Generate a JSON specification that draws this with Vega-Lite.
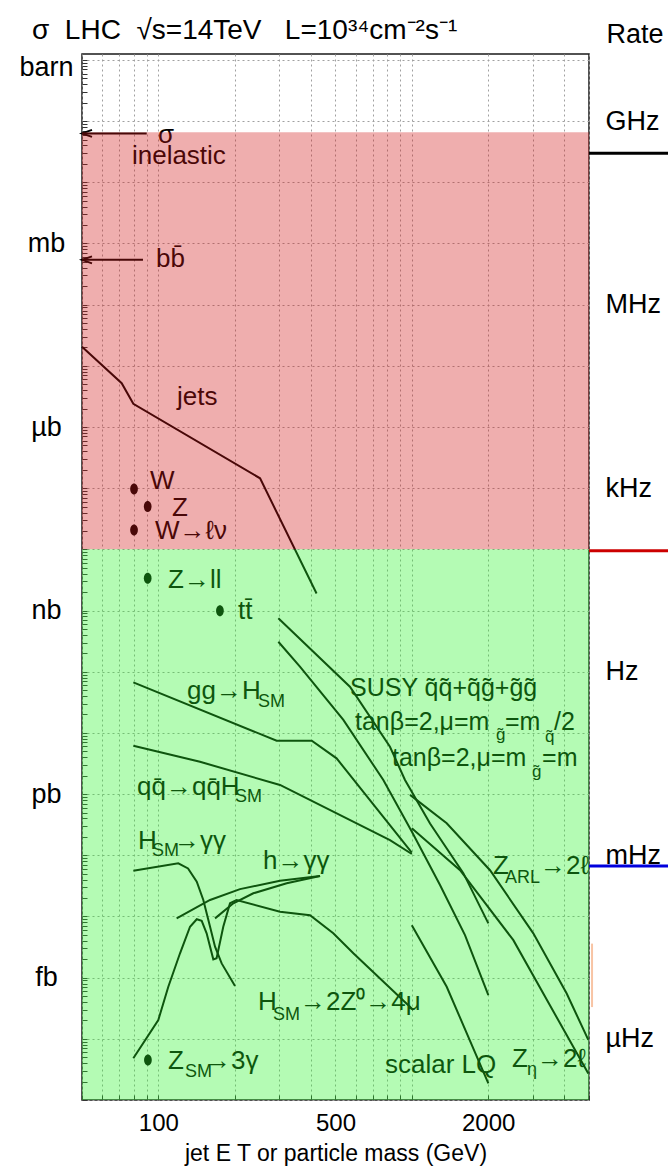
{
  "$schema": "https://vega.github.io/schema/vega-lite/v6.json",
  "width": 507,
  "height": 1046,
  "autosize": "none",
  "padding": {"left": 82, "top": 54, "right": 79, "bottom": 66},
  "background": "white",
  "config": {"font": "Liberation Sans", "view": {"stroke": "#1a1a1a", "strokeWidth": 1.5}},
  "title": {"text": "σ\u00a0\u00a0LHC\u00a0\u00a0√s=14TeV\u00a0\u00a0\u00a0L=10³⁴cm⁻²s⁻¹", "anchor": "start", "frame": "group", "dx": -50, "dy": 66, "offset": 19, "baseline": "alphabetic", "fontSize": 28, "fontWeight": "normal", "font": "Liberation Sans", "color": "black"},
  "resolve": {"scale": {"color": "independent"}},
  "datasets": {
    "curves": [
      {"series": "jets", "m": 50, "s": 2.05e-5},
      {"series": "jets", "m": 71.7, "s": 5.2e-6},
      {"series": "jets", "m": 79.7, "s": 2.4e-6},
      {"series": "jets", "m": 252, "s": 1.45e-7},
      {"series": "jets", "m": 421, "s": 1.9e-9},
      {"series": "ggH", "m": 79.7, "s": 6.7e-11},
      {"series": "ggH", "m": 293, "s": 7.45e-12},
      {"series": "ggH", "m": 403, "s": 7.45e-12},
      {"series": "ggH", "m": 505, "s": 3.84e-12},
      {"series": "ggH", "m": 1000, "s": 1.1e-13},
      {"series": "qqH", "m": 79.7, "s": 6.17e-12},
      {"series": "qqH", "m": 146, "s": 3.38e-12},
      {"series": "qqH", "m": 302, "s": 1.41e-12},
      {"series": "qqH", "m": 820, "s": 1.77e-13},
      {"series": "qqH", "m": 1000, "s": 1.05e-13},
      {"series": "susy1", "m": 297.5, "s": 7.46e-10},
      {"series": "susy1", "m": 570, "s": 5.7e-11},
      {"series": "susy1", "m": 820, "s": 5.94e-12},
      {"series": "susy1", "m": 940, "s": 1.7e-12},
      {"series": "susy1", "m": 1180, "s": 3.3e-13},
      {"series": "susy1", "m": 1597, "s": 5.1e-14},
      {"series": "susy1", "m": 2004, "s": 7.7e-15},
      {"series": "susy2", "m": 297.5, "s": 3.09e-10},
      {"series": "susy2", "m": 362, "s": 1.21e-10},
      {"series": "susy2", "m": 537, "s": 1.63e-11},
      {"series": "susy2", "m": 772, "s": 1.7e-12},
      {"series": "susy2", "m": 1002, "s": 2.4e-13},
      {"series": "susy2", "m": 1292, "s": 3.26e-14},
      {"series": "susy2", "m": 1621, "s": 4.97e-15},
      {"series": "susy2", "m": 2004, "s": 5.2e-16},
      {"series": "Hgg", "m": 79.7, "s": 5.6e-14},
      {"series": "Hgg", "m": 119.9, "s": 7.4e-14},
      {"series": "Hgg", "m": 131, "s": 6.1e-14},
      {"series": "Hgg", "m": 141.8, "s": 3.7e-14},
      {"series": "Hgg", "m": 150.5, "s": 1.86e-14},
      {"series": "Hgg", "m": 160, "s": 6.8e-15},
      {"series": "Hgg", "m": 167.4, "s": 3.2e-15},
      {"series": "Hgg", "m": 177.8, "s": 1.71e-15},
      {"series": "Hgg", "m": 200.7, "s": 7.3e-16},
      {"series": "H4mu", "m": 79.7, "s": 4.8e-17},
      {"series": "H4mu", "m": 100, "s": 2.03e-16},
      {"series": "H4mu", "m": 109.5, "s": 7.1e-16},
      {"series": "H4mu", "m": 121.8, "s": 2.5e-15},
      {"series": "H4mu", "m": 133.4, "s": 6.8e-15},
      {"series": "H4mu", "m": 141.8, "s": 9.0e-15},
      {"series": "H4mu", "m": 148.3, "s": 8.5e-15},
      {"series": "H4mu", "m": 155.1, "s": 5.3e-15},
      {"series": "H4mu", "m": 164.8, "s": 1.99e-15},
      {"series": "H4mu", "m": 169.8, "s": 2.07e-15},
      {"series": "H4mu", "m": 180.4, "s": 6.8e-15},
      {"series": "H4mu", "m": 191.8, "s": 1.64e-14},
      {"series": "H4mu", "m": 203.7, "s": 1.86e-14},
      {"series": "H4mu", "m": 302, "s": 1.19e-14},
      {"series": "H4mu", "m": 396.7, "s": 1.05e-14},
      {"series": "H4mu", "m": 490, "s": 5.3e-15},
      {"series": "H4mu", "m": 588, "s": 2.5e-15},
      {"series": "H4mu", "m": 1014, "s": 2.96e-16},
      {"series": "hggA", "m": 118.1, "s": 9.3e-15},
      {"series": "hggA", "m": 160, "s": 1.86e-14},
      {"series": "hggA", "m": 210, "s": 2.8e-14},
      {"series": "hggA", "m": 302, "s": 3.84e-14},
      {"series": "hggA", "m": 434.5, "s": 4.6e-14},
      {"series": "hggB", "m": 167.4, "s": 9.3e-15},
      {"series": "hggB", "m": 197.7, "s": 1.64e-14},
      {"series": "hggB", "m": 237, "s": 2.39e-14},
      {"series": "hggB", "m": 321, "s": 3.5e-14},
      {"series": "hggB", "m": 434.5, "s": 4.6e-14},
      {"series": "ZARL", "m": 984, "s": 9.7e-13},
      {"series": "ZARL", "m": 1373, "s": 3.33e-13},
      {"series": "ZARL", "m": 2035, "s": 5.7e-14},
      {"series": "ZARL", "m": 3015, "s": 5.3e-15},
      {"series": "ZARL", "m": 4083, "s": 5.5e-16},
      {"series": "ZARL", "m": 4969, "s": 9.6e-17},
      {"series": "Zeta", "m": 1000, "s": 2.76e-13},
      {"series": "Zeta", "m": 1550, "s": 5.7e-14},
      {"series": "Zeta", "m": 2515, "s": 4.1e-15},
      {"series": "Zeta", "m": 4969, "s": 2.7e-17},
      {"series": "LQ", "m": 1000, "s": 7.2e-15},
      {"series": "LQ", "m": 1373, "s": 7.1e-16},
      {"series": "LQ", "m": 2004, "s": 1.87e-17}
    ],
    "arrows": [
      {"m": 50, "m2": 90, "s": 0.063},
      {"m": 50, "m2": 87, "s": 5.4e-4}
    ],
    "dots": [
      {"m": 80.2, "s": 9.7e-8},
      {"m": 90.8, "s": 5.0e-8},
      {"m": 80.2, "s": 2.07e-8},
      {"m": 90.8, "s": 3.36e-9},
      {"m": 175, "s": 9.9e-10},
      {"m": 91, "s": 4.5e-17}
    ],
    "labels": [
      {"m": 99.7, "s": 0.0592, "t": "σ"},
      {"m": 78.7, "s": 0.0269, "t": "inelastic"},
      {"m": 97.9, "s": 5.57e-4, "t": "bb̄"},
      {"m": 118.5, "s": 3.09e-6, "t": "jets"},
      {"m": 92.7, "s": 1.31e-7, "t": "W"},
      {"m": 113.2, "s": 4.74e-8, "t": "Z"},
      {"m": 97.0, "s": 2.0e-8, "t": "W→ℓν"},
      {"m": 109.2, "s": 3.16e-9, "t": "Z→ll"},
      {"m": 206.3, "s": 9.8e-10, "t": "tt̄"},
      {"m": 129.8, "s": 4.84e-11, "t": "gg→H"},
      {"m": 82.4, "s": 1.3e-12, "t": "qq̄→qq̄H"},
      {"m": 83.2, "s": 1.71e-13, "t": "H"},
      {"m": 115.3, "s": 1.71e-13, "t": "→γγ"},
      {"m": 258.8, "s": 8.05e-14, "t": "h→γγ"},
      {"m": 247.4, "s": 3.99e-16, "t": "H"},
      {"m": 362.2, "s": 3.99e-16, "t": "→2Z⁰→4μ"},
      {"m": 109.2, "s": 4.33e-17, "t": "Z"},
      {"m": 152.8, "s": 4.33e-17, "t": "→3γ"},
      {"m": 784, "s": 3.72e-17, "t": "scalar LQ"},
      {"m": 2485, "s": 4.67e-17, "t": "Z"},
      {"m": 3119, "s": 4.67e-17, "t": "→2ℓ"},
      {"m": 2091, "s": 6.67e-14, "t": "Z"},
      {"m": 3205, "s": 6.67e-14, "t": "→2ℓ"}
    ],
    "subs": [
      {"m": 247.4, "s": 3.2e-11, "t": "SM"},
      {"m": 200.7, "s": 8.95e-13, "t": "SM"},
      {"m": 94.4, "s": 1.17e-13, "t": "SM"},
      {"m": 283.5, "s": 2.45e-16, "t": "SM"},
      {"m": 127.4, "s": 2.86e-17, "t": "SM"},
      {"m": 2848, "s": 3.09e-17, "t": "η"},
      {"m": 2331, "s": 4.25e-14, "t": "ARL"}
    ],
    "susy": [
      {"m": 570.5, "s": 5.42e-11, "t": "SUSY q̃q̃+q̃g̃+g̃g̃"},
      {"m": 597, "s": 1.51e-11, "t": "tanβ=2,μ=m"},
      {"m": 2331, "s": 1.51e-11, "t": "=m"},
      {"m": 3638, "s": 1.51e-11, "t": "/2"},
      {"m": 835, "s": 3.88e-12, "t": "tanβ=2,μ=m"},
      {"m": 3264, "s": 3.88e-12, "t": "=m"}
    ],
    "susysubs": [
      {"m": 2148, "s": 9.2e-12, "t": "g̃"},
      {"m": 3353, "s": 8.57e-12, "t": "q̃"},
      {"m": 2979, "s": 2.29e-12, "t": "g̃"}
    ],
    "zones": [
      {"zone": "high", "m": 50, "m2": 5000, "s": 1e-8, "s2": 0.066},
      {"zone": "low", "m": 50, "m2": 5000, "s": 1e-17, "s2": 1e-8}
    ],
    "rates": [
      {"level": "a", "m": 5000, "m2": 12000, "s": 0.0297},
      {"level": "b", "m": 5000, "m2": 12000, "s": 9.5e-9},
      {"level": "c", "m": 5000, "m2": 12000, "s": 6.7e-14}
    ],
    "edge": [
      {"m": 5140, "s": 3.6e-15, "s2": 3.3e-16}
    ]
  },
  "layer": [
    {
      "data": {"name": "curves"},
      "mark": {"type": "line", "color": "black", "strokeWidth": 2},
      "encoding": {
        "x": {"field": "m", "type": "quantitative", "scale": {"type": "log", "domain": [50, 5000], "nice": false},
          "axis": {"title": "jet E T or particle mass (GeV)", "orient": "bottom", "values": [50,60,70,80,90,100,200,300,400,500,600,700,800,900,1000,2000,3000,4000,5000],
            "labelExpr": "datum.value==100?'100':datum.value==500?'500':datum.value==2000?'2000':''",
            "labelFontSize": 24, "labelColor": "black", "labelPadding": 16, "labelFlush": false, "labelOverlap": false,
            "tickSize": -5, "tickColor": "#333", "domain": false, "grid": true, "gridColor": "#a0a0a0", "gridDash": [2, 3], "gridWidth": 1,
            "titleFontSize": 23, "titleFontWeight": "normal", "titleColor": "black", "titleBaseline": "alphabetic", "titleY": 60}},
        "y": {"field": "s", "type": "quantitative", "scale": {"type": "log", "domain": [1e-17, 1.25], "nice": false},
          "axis": {"title": null, "orient": "left",
            "values": [1,0.9,0.8,0.7,0.6,0.5,0.4,0.3,0.2,0.1,
              9e-2,8e-2,7e-2,6e-2,5e-2,4e-2,3e-2,2e-2,1e-2,
              9e-3,8e-3,7e-3,6e-3,5e-3,4e-3,3e-3,2e-3,1e-3,
              9e-4,8e-4,7e-4,6e-4,5e-4,4e-4,3e-4,2e-4,1e-4,
              9e-5,8e-5,7e-5,6e-5,5e-5,4e-5,3e-5,2e-5,1e-5,
              9e-6,8e-6,7e-6,6e-6,5e-6,4e-6,3e-6,2e-6,1e-6,
              9e-7,8e-7,7e-7,6e-7,5e-7,4e-7,3e-7,2e-7,1e-7,
              9e-8,8e-8,7e-8,6e-8,5e-8,4e-8,3e-8,2e-8,1e-8,
              9e-9,8e-9,7e-9,6e-9,5e-9,4e-9,3e-9,2e-9,1e-9,
              9e-10,8e-10,7e-10,6e-10,5e-10,4e-10,3e-10,2e-10,1e-10,
              9e-11,8e-11,7e-11,6e-11,5e-11,4e-11,3e-11,2e-11,1e-11,
              9e-12,8e-12,7e-12,6e-12,5e-12,4e-12,3e-12,2e-12,1e-12,
              9e-13,8e-13,7e-13,6e-13,5e-13,4e-13,3e-13,2e-13,1e-13,
              9e-14,8e-14,7e-14,6e-14,5e-14,4e-14,3e-14,2e-14,1e-14,
              9e-15,8e-15,7e-15,6e-15,5e-15,4e-15,3e-15,2e-15,1e-15,
              9e-16,8e-16,7e-16,6e-16,5e-16,4e-16,3e-16,2e-16,1e-16,
              9e-17,8e-17,7e-17,6e-17,5e-17,4e-17,3e-17,2e-17,1e-17],
            "labelExpr": "abs(datum.value-1)<0.01?'barn':abs(log(datum.value)/LN10+3)<0.01?'mb':abs(log(datum.value)/LN10+6)<0.01?'µb':abs(log(datum.value)/LN10+9)<0.01?'nb':abs(log(datum.value)/LN10+12)<0.01?'pb':abs(log(datum.value)/LN10+15)<0.01?'fb':''",
            "labelFontSize": 27, "labelAlign": "center", "labelBaseline": "middle", "labelPadding": 41, "labelColor": "black",
            "labelOverlap": false, "labelFlush": false,
            "labelOffset": {"condition": {"test": "datum.value > 0.95", "value": 8}, "value": 0},
            "tickSize": -5, "tickColor": "#333", "domain": false, "grid": true, "gridColor": "#a0a0a0", "gridDash": [2, 3], "gridWidth": 1,
            "gridOpacity": {"condition": {"test": "abs(log(datum.value)/LN10-round(log(datum.value)/LN10))<0.01", "value": 1}, "value": 0}}},
        "detail": {"field": "series"}
      }
    },
    {
      "data": {"name": "arrows"},
      "mark": {"type": "rule", "color": "black", "strokeWidth": 2},
      "encoding": {
        "x": {"field": "m", "type": "quantitative"},
        "x2": {"field": "m2"},
        "y": {"field": "s", "type": "quantitative", "axis": null}
      }
    },
    {
      "data": {"name": "arrows"},
      "mark": {"type": "point", "shape": "M2,-0.7L0,0L2,0.7", "filled": false, "color": "black", "strokeWidth": 2, "size": 100, "opacity": 1},
      "encoding": {
        "x": {"field": "m", "type": "quantitative"},
        "y": {"field": "s", "type": "quantitative", "axis": null}
      }
    },
    {
      "data": {"name": "dots"},
      "mark": {"type": "point", "shape": "M0,-1A0.7,1,0,1,1,0,1A0.7,1,0,1,1,0,-1Z", "filled": true, "color": "black", "size": 121, "opacity": 1},
      "encoding": {
        "x": {"field": "m", "type": "quantitative"},
        "y": {"field": "s", "type": "quantitative", "axis": null}
      }
    },
    {
      "data": {"name": "labels"},
      "mark": {"type": "text", "align": "left", "baseline": "middle", "fontSize": 26, "color": "black"},
      "encoding": {
        "x": {"field": "m", "type": "quantitative"},
        "y": {"field": "s", "type": "quantitative", "axis": null},
        "text": {"field": "t"}
      }
    },
    {
      "data": {"name": "subs"},
      "mark": {"type": "text", "align": "left", "baseline": "middle", "fontSize": 18, "color": "black"},
      "encoding": {
        "x": {"field": "m", "type": "quantitative"},
        "y": {"field": "s", "type": "quantitative", "axis": null},
        "text": {"field": "t"}
      }
    },
    {
      "data": {"name": "susy"},
      "mark": {"type": "text", "align": "left", "baseline": "middle", "fontSize": 25, "color": "black"},
      "encoding": {
        "x": {"field": "m", "type": "quantitative"},
        "y": {"field": "s", "type": "quantitative", "axis": null},
        "text": {"field": "t"}
      }
    },
    {
      "data": {"name": "susysubs"},
      "mark": {"type": "text", "align": "left", "baseline": "middle", "fontSize": 17, "color": "black"},
      "encoding": {
        "x": {"field": "m", "type": "quantitative"},
        "y": {"field": "s", "type": "quantitative", "axis": null},
        "text": {"field": "t"}
      }
    },
    {
      "data": {"name": "zones"},
      "mark": {"type": "rect", "opacity": 0.35},
      "encoding": {
        "x": {"field": "m", "type": "quantitative"},
        "x2": {"field": "m2"},
        "y": {"field": "s", "type": "quantitative", "axis": null},
        "y2": {"field": "s2"},
        "color": {"field": "zone", "type": "nominal", "scale": {"domain": ["high", "low"], "range": ["#d11717", "#29f429"]}, "legend": null}
      }
    },
    {
      "data": {"name": "rates"},
      "mark": {"type": "rule", "strokeWidth": 3},
      "encoding": {
        "x": {"field": "m", "type": "quantitative"},
        "x2": {"field": "m2"},
        "y": {"field": "s", "type": "quantitative",
          "axis": {"orient": "right", "title": "Rate", "values": [0.1, 1e-4, 1e-7, 1e-10, 1e-13, 1e-16],
            "labelExpr": "datum.value>0.05?'GHz':datum.value>5e-5?'MHz':datum.value>5e-8?'kHz':datum.value>5e-11?'Hz':datum.value>5e-14?'mHz':'µHz'",
            "ticks": false, "domain": false, "grid": false, "labelFontSize": 27, "labelAlign": "left", "labelBaseline": "middle", "labelPadding": 16,
            "labelColor": "black", "labelOverlap": false, "labelFlush": false,
            "titleAngle": 0, "titleAlign": "left", "titleBaseline": "alphabetic", "titleX": 17, "titleY": -12, "titleFontSize": 27, "titleFontWeight": "normal", "titleColor": "black"}},
        "color": {"field": "level", "type": "nominal", "scale": {"domain": ["a", "b", "c"], "range": ["#000000", "#cc0000", "#0000dd"]}, "legend": null}
      }
    },
    {
      "data": {"name": "edge"},
      "mark": {"type": "rule", "strokeWidth": 2, "color": "#f8c4a4"},
      "encoding": {
        "x": {"field": "m", "type": "quantitative"},
        "y": {"field": "s", "type": "quantitative", "axis": null},
        "y2": {"field": "s2"}
      }
    }
  ]
}
